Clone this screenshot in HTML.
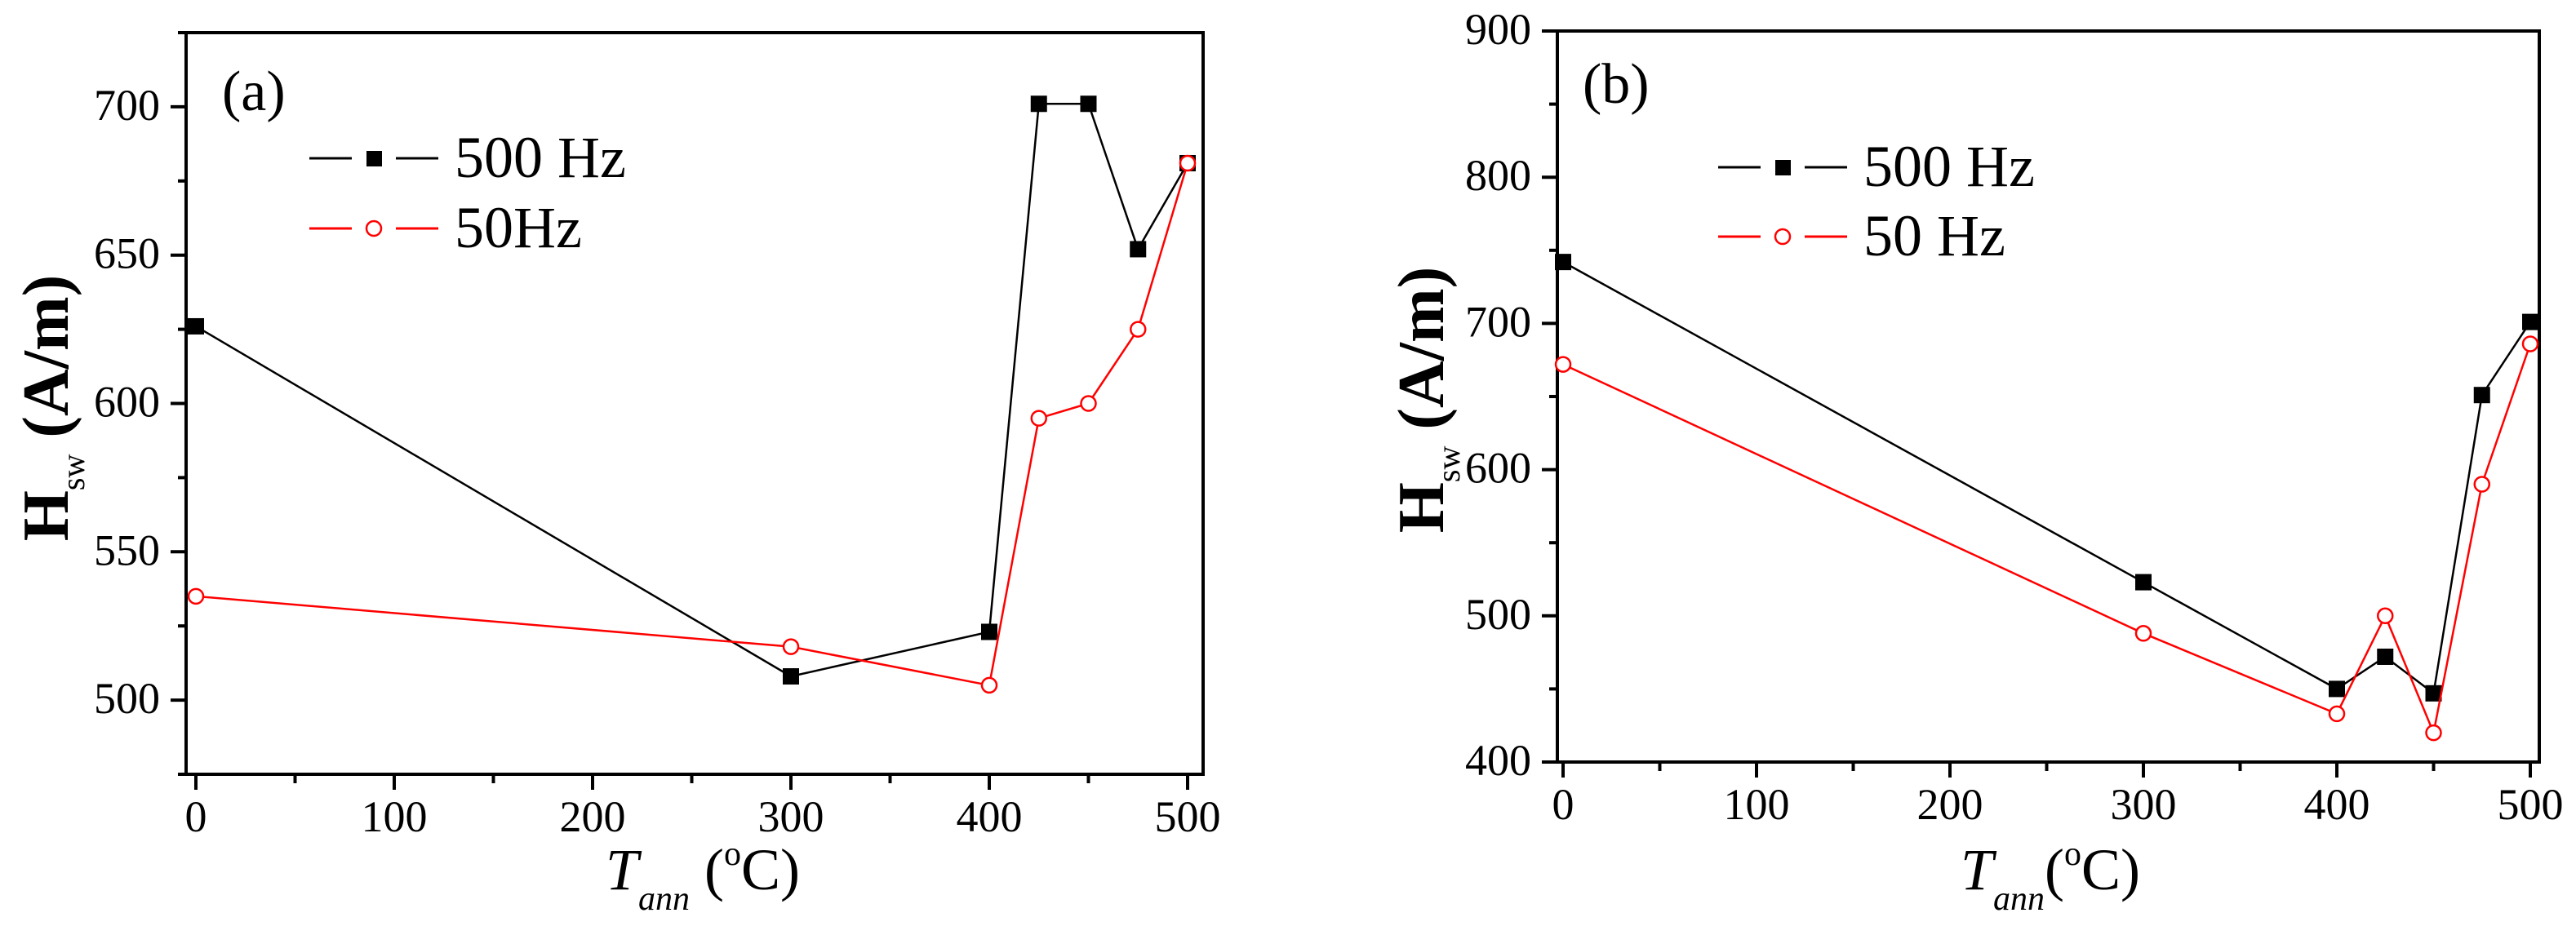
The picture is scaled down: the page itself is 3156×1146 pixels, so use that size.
<!DOCTYPE html>
<html><head><meta charset="utf-8">
<style>
html,body{margin:0;padding:0;background:#fff;}
svg{display:block;}
svg text{font-family:"Liberation Serif","Times New Roman",serif;}
</style></head>
<body>
<svg id="fig" width="3156" height="1146" viewBox="0 0 3156 1146" xmlns="http://www.w3.org/2000/svg" font-family="Liberation Serif, serif"></svg>
<script>
const xCats = [0, 300, 400, 425, 450, 475, 500];
const aHz500 = [626, 508, 523, 701, 701, 652, 681];
const aHz50 = [535, 518, 505, 595, 600, 625, 681];
const bHz500 = [742, 523, 450, 472, 447, 651, 701];
const bHz50 = [672, 488, 433, 500, 420, 590, 686];
const xTicks = [0, 100, 200, 300, 400, 500];
const aYTicks = [500, 550, 600, 650, 700];
const bYTicks = [400, 500, 600, 700, 800, 900];

const NS = "http://www.w3.org/2000/svg";
const svg = document.getElementById('fig');
function el(tag, attrs, parent, txt){
  const e = document.createElementNS(NS, tag);
  for (const k in attrs) e.setAttribute(k, attrs[k]);
  if (txt !== undefined) e.textContent = txt;
  (parent || svg).appendChild(e);
  return e;
}

function panel(cfg){
  const g = el('g', {});
  
  
  const X = v => cfg.x0 + v * (cfg.x500 - cfg.x0) / 500;
  const Y = v => cfg.bottom - (v - cfg.ymin) * (cfg.bottom - cfg.top) / (cfg.ymax - cfg.ymin);
  const fr = el('rect', {x: cfg.left, y: cfg.top, width: cfg.right - cfg.left, height: cfg.bottom - cfg.top, fill: 'none', stroke: '#000', 'stroke-width': 4}, g);
  
  
  for (let v = 0; v <= 500; v += 50) {
    const major = v % 100 === 0;
    const t = el('line', {x1: X(v), x2: X(v), y1: cfg.bottom, y2: cfg.bottom + (major ? 19 : 11), stroke: '#000', 'stroke-width': 4}, g);
    
    
  }
  xTicks.forEach(v => {
    const t = el('text', {x: X(v), y: cfg.bottom + 70, 'font-size': 54, 'text-anchor': 'middle'}, g, String(v));
    
    
  });
  for (let v = cfg.ymin; v <= cfg.ymax; v += cfg.minorStep) {
    const major = cfg.yTicks.includes(v);
    const t = el('line', {x1: cfg.left - (major ? 19 : 10), x2: cfg.left, y1: Y(v), y2: Y(v), stroke: '#000', 'stroke-width': 4}, g);
    
    
  }
  cfg.yTicks.forEach(v => {
    const t = el('text', {x: cfg.left - 32, y: Y(v) + 16, 'font-size': 54, 'text-anchor': 'end'}, g, String(v));
    
    
  });
  const yt = el('text', {transform: `translate(${cfg.ytx},${cfg.yty}) rotate(-90)`, 'font-size': 80, 'font-weight': 'bold', 'text-anchor': 'middle'}, g);
  
  
  el('tspan', {}, yt, 'H');
  el('tspan', {'font-size': 40, 'font-weight': 'normal', dy: 20}, yt, 'sw');
  el('tspan', {dy: -20}, yt, ' (A/m)');
  const xt = el('text', {x: cfg.xtx, y: 1090, 'font-size': 72, 'text-anchor': 'middle'}, g);
  
  
  el('tspan', {'font-style': 'italic'}, xt, 'T');
  el('tspan', {'font-style': 'italic', 'font-size': 42, dy: 25}, xt, 'ann');
  el('tspan', {dy: -25}, xt, cfg.xgap + '(');
  el('tspan', {'font-size': 42, dy: -30}, xt, 'o');
  el('tspan', {dy: 30}, xt, 'C)');
  const pl = el('text', {x: cfg.lblx, y: cfg.lbly, 'font-size': 70}, g, cfg.label);
  
  
  const series = [
    {vals: cfg.s500, color: '#000', sq: true, name: 'series-500hz'},
    {vals: cfg.s50, color: '#f00', sq: false, name: 'series-50hz'}
  ];
  series.forEach(s => {
    const pts = xCats.map((c, i) => X(c) + ',' + Y(s.vals[i])).join(' ');
    const line = el('polyline', {points: pts, fill: 'none', stroke: s.color, 'stroke-width': 2.5}, g);
    
    
    xCats.forEach((c, i) => {
      let m;
      if (s.sq) m = el('rect', {x: X(c) - 10, y: Y(s.vals[i]) - 10, width: 20, height: 20, fill: '#000'}, g);
      else m = el('circle', {cx: X(c), cy: Y(s.vals[i]), r: 9, fill: '#fff', stroke: '#f00', 'stroke-width': 2.5}, g);
      
      
    });
  });
  const lg = el('g', {}, g);
  
  
  [[cfg.s500lbl, '#000', true, cfg.legy1], [cfg.s50lbl, '#f00', false, cfg.legy2]].forEach(([t, c, sq, y]) => {
    const lx = cfg.legx;
    el('line', {x1: lx, x2: lx + 52, y1: y, y2: y, stroke: c, 'stroke-width': 3}, lg);
    el('line', {x1: lx + 106, x2: lx + 158, y1: y, y2: y, stroke: c, 'stroke-width': 3}, lg);
    if (sq) el('rect', {x: lx + 70, y: y - 9, width: 19, height: 19, fill: '#000'}, lg);
    else el('circle', {cx: lx + 79, cy: y, r: 9, fill: '#fff', stroke: '#f00', 'stroke-width': 2.5}, lg);
    const tx = el('text', {x: lx + 178, y: y + 23, 'font-size': 72}, lg, t);
    
    
  });
}

panel({name: 'panel-a', left: 228, right: 1474, top: 40, bottom: 949, x0: 240, x500: 1455,
  ymin: 475, ymax: 725, yTicks: aYTicks, minorStep: 25, s500: aHz500, s50: aHz50,
  ytx: 83, yty: 500, xtx: 861, xgap: ' ', lblx: 272, lbly: 135, label: '(a)',
  legx: 379, legy1: 194, legy2: 280, s500lbl: '500 Hz', s50lbl: '50Hz'});
panel({name: 'panel-b', left: 1908, right: 3111, top: 38, bottom: 934, x0: 1915, x500: 3100,
  ymin: 400, ymax: 900, yTicks: bYTicks, minorStep: 50, s500: bHz500, s50: bHz50,
  ytx: 1768, yty: 490, xtx: 2512, xgap: '', lblx: 1939, lbly: 126, label: '(b)',
  legx: 2105, legy1: 205, legy2: 290, s500lbl: '500 Hz', s50lbl: '50 Hz'});
</script>
</body></html>
